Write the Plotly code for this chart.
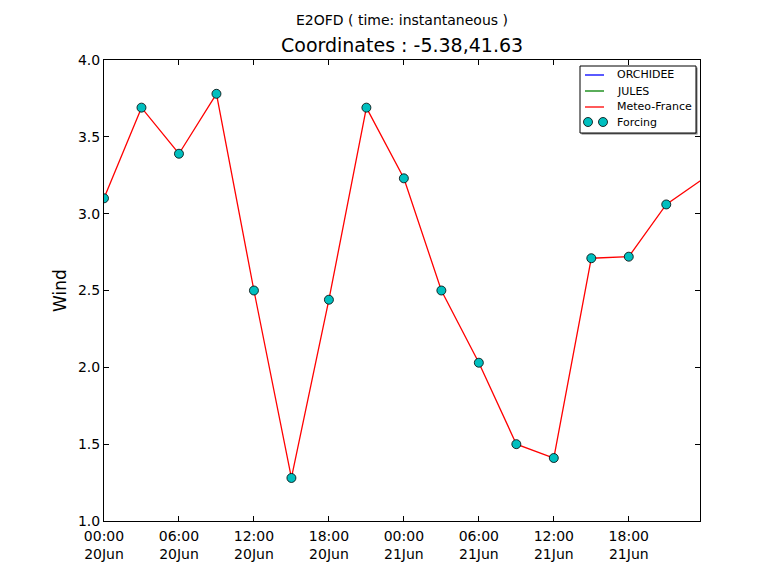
import plotly.graph_objects as go
from datetime import datetime, timedelta

start = datetime(2000, 6, 20, 0, 0)
hours = [0, 3, 6, 9, 12, 15, 18, 21, 24, 27, 30, 33, 36, 39, 42, 45, 48]
meteo_france = [3.10, 3.69, 3.39, 3.78, 2.50, 1.28, 2.44, 3.69, 3.23, 2.50, 2.03, 1.50, 1.41, 2.71, 2.72, 3.06, 3.23]
forcing_hours = hours[:-1]
forcing = meteo_france[:-1]
tick_hours = [0, 6, 12, 18, 24, 30, 36, 42]
x_max_hours = 47.7
legend_names = ["ORCHIDEE", "JULES", "Meteo-France", "Forcing"]
legend_colors = ["#0000ff", "#008000", "#ff0000", "#00bfbf"]

def iso(h):
    return (start + timedelta(hours=h)).strftime("%Y-%m-%d %H:%M:%S")

t = [iso(h) for h in hours]
tf = [iso(h) for h in forcing_hours]
tickvals = [iso(h) for h in tick_hours]
ticktext = [(start + timedelta(hours=h)).strftime("%H:%M") + "<br>" + (start + timedelta(hours=h)).strftime("%d%b")
            for h in tick_hours]

font = "DejaVu Sans"
fig = go.Figure()
fig.add_trace(go.Scatter(x=[None], y=[None], mode="lines", name=legend_names[0],
                         line=dict(color=legend_colors[0], width=1.3), showlegend=False))
fig.add_trace(go.Scatter(x=[None], y=[None], mode="lines", name=legend_names[1],
                         line=dict(color=legend_colors[1], width=1.3), showlegend=False))
fig.add_trace(go.Scatter(x=t, y=meteo_france, mode="lines", name=legend_names[2],
                         line=dict(color=legend_colors[2], width=1.3), showlegend=False))
fig.add_trace(go.Scatter(x=tf, y=forcing, mode="markers", name=legend_names[3], showlegend=False,
                         marker=dict(color=legend_colors[3], size=9, line=dict(color="black", width=0.8))))

# ---- hand-drawn matplotlib-style legend (paper coordinates of the plot area) ----
L, R, T, B = 104, 700, 60, 521  # plot area in page pixels
def px(xp):
    return (xp - L) / (R - L)
def py(yp):
    return (B - yp) / (B - T)

shapes = []
annotations = []
# shadow + box
shapes.append(dict(type="rect", xref="paper", yref="paper", x0=px(581.5), x1=px(697.5), y0=py(134.5), y1=py(67.5),
                   line=dict(width=0), fillcolor="#7a7a7a", layer="above"))
shapes.append(dict(type="rect", xref="paper", yref="paper", x0=px(580), x1=px(696), y0=py(133), y1=py(66),
                   line=dict(color="black", width=1), fillcolor="white", layer="above"))
row_y = [75, 91, 107, 122]
for i, name in enumerate(legend_names):
    if i < 3:
        shapes.append(dict(type="line", xref="paper", yref="paper", x0=px(585), x1=px(604),
                           y0=py(row_y[i]), y1=py(row_y[i]),
                           line=dict(color=legend_colors[i], width=1.3), layer="above"))
    else:
        for cx in (588, 603):
            shapes.append(dict(type="circle", xref="paper", yref="paper", xsizemode="pixel", ysizemode="pixel",
                               xanchor=px(cx), yanchor=py(row_y[i]), x0=-4.5, x1=4.5, y0=-4.5, y1=4.5,
                               fillcolor=legend_colors[i], line=dict(color="black", width=0.8), layer="above"))
    annotations.append(dict(text=name, x=px(615), y=py(row_y[i]), xref="paper", yref="paper",
                            xanchor="left", yanchor="middle", showarrow=False, font=dict(size=11)))

annotations += [
    dict(text="E2OFD ( time: instantaneous )", x=0.5, y=1.0, xref="paper", yref="paper",
         yanchor="bottom", yshift=30, showarrow=False, font=dict(size=14)),
    dict(text="Coordinates : -5.38,41.63", x=0.5, y=1.0, xref="paper", yref="paper",
         yanchor="bottom", yshift=2, showarrow=False, font=dict(size=19)),
]

# page body has an 8px margin, so the figure is shrunk by 8px on left/top
fig.update_layout(
    width=755, height=567,
    margin=dict(l=96, r=63, t=52, b=54),
    paper_bgcolor="white", plot_bgcolor="white",
    font=dict(family=font, size=14, color="black"),
    showlegend=False,
    shapes=shapes,
    annotations=annotations,
)

fig.update_xaxes(type="date", range=[iso(0), iso(x_max_hours)],
                 tickmode="array", tickvals=tickvals, ticktext=ticktext, ticklabelstandoff=2,
                 showgrid=False, zeroline=False, showline=True, linecolor="black", linewidth=1,
                 mirror="allticks", ticks="inside", ticklen=5, tickcolor="black")
fig.update_yaxes(range=[1.0, 4.0], dtick=0.5, tickformat=".1f", title=dict(text="Wind", standoff=6),
                 showgrid=False, zeroline=False, showline=True, linecolor="black", linewidth=1,
                 mirror="allticks", ticks="inside", ticklen=5, tickcolor="black")

fig.write_html("out.html")
